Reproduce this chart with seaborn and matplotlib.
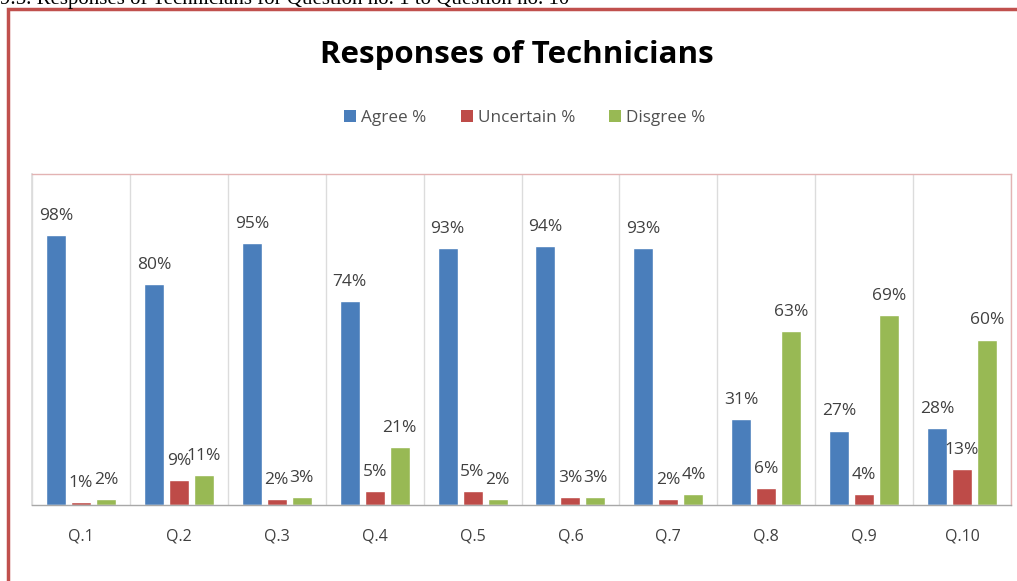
import matplotlib
matplotlib.use("Agg")
import matplotlib.pyplot as plt
from matplotlib.patches import Rectangle, Patch
import seaborn as sns
import pandas as pd

questions = ["Q.1", "Q.2", "Q.3", "Q.4", "Q.5", "Q.6", "Q.7", "Q.8", "Q.9", "Q.10"]
agree = [98, 80, 95, 74, 93, 94, 93, 31, 27, 28]
uncertain = [1, 9, 2, 5, 5, 3, 2, 6, 4, 13]
disagree = [2, 11, 3, 21, 2, 3, 4, 63, 69, 60]
series_names = ["Agree %", "Uncertain %", "Disgree %"]
colors = ["#4A7EBB", "#BE4B48", "#98B954"]

rows = []
for name, vals in zip(series_names, [agree, uncertain, disagree]):
    for q, v in zip(questions, vals):
        rows.append({"Question": q, "Series": name, "Value": v})
df = pd.DataFrame(rows)

sns.set_theme(style="white")
plt.rcParams["font.family"] = ["Open Sans", "DejaVu Sans"]

W, H = 1017, 581
fig = plt.figure(figsize=(W / 100, H / 100), dpi=100)
fig.patch.set_facecolor("white")

# outer chart frame
fig.patches.append(Rectangle((8 / W, -0.05), 1.2, (H - 9) / H + 0.05,
                             transform=fig.transFigure, fill=False,
                             edgecolor="#C0504D", linewidth=2.5, zorder=0))

# section heading above the chart (runs off the top edge)
fig.text(0.0, 1 - 4 / H, "9.5. Responses of Technicians for Question no. 1 to Question no. 10",
         family=["Liberation Serif"], fontsize=15, color="black",
         ha="left", va="baseline")

ax = fig.add_axes([32 / W, 76 / H, 979 / W, 331 / H])
sns.barplot(data=df, x="Question", y="Value", hue="Series", hue_order=series_names,
            palette=colors, width=0.765, gap=0.2, ax=ax, legend=False,
            saturation=1, errorbar=None)

ax.set_ylim(0, 120)
ax.set_xlim(-0.5, len(questions) - 0.5)
ax.set_yticks([])
ax.set_xlabel("")
ax.set_ylabel("")

# category separators
for b in range(len(questions) + 1):
    ax.axvline(b - 0.5, color="#DCDCDC", linewidth=1, zorder=0)

for side in ["top", "right"]:
    ax.spines[side].set_color("#E3B3B3")
    ax.spines[side].set_linewidth(1)
ax.spines["left"].set_color("#DCDCDC")
ax.spines["bottom"].set_color("#A8A8A8")
ax.spines["bottom"].set_linewidth(1)

ax.tick_params(axis="x", length=0, pad=17, labelsize=11.5, labelcolor="#404040")

for cont in ax.containers:
    for bar in cont:
        h = bar.get_height()
        ax.annotate(f"{h:.0f}%", (bar.get_x() + bar.get_width() / 2, h),
                    xytext=(0, 8), textcoords="offset points",
                    ha="center", va="bottom", fontsize=12.5, color="#404040")

fig.text(517 / W, 1 - 55 / H, "Responses of Technicians", ha="center", va="center",
         fontsize=22.5, fontweight="bold", color="black")

handles = [Patch(facecolor=c, edgecolor="none") for c in colors]
fig.legend(handles, series_names, loc="center", bbox_to_anchor=(525 / W, 1 - 118 / H),
           ncol=3, frameon=False, fontsize=12.3, handlelength=0.7, handleheight=0.7,
           handletextpad=0.3, columnspacing=2.0, labelcolor="#505050")

fig.savefig("out.png", dpi=100)
